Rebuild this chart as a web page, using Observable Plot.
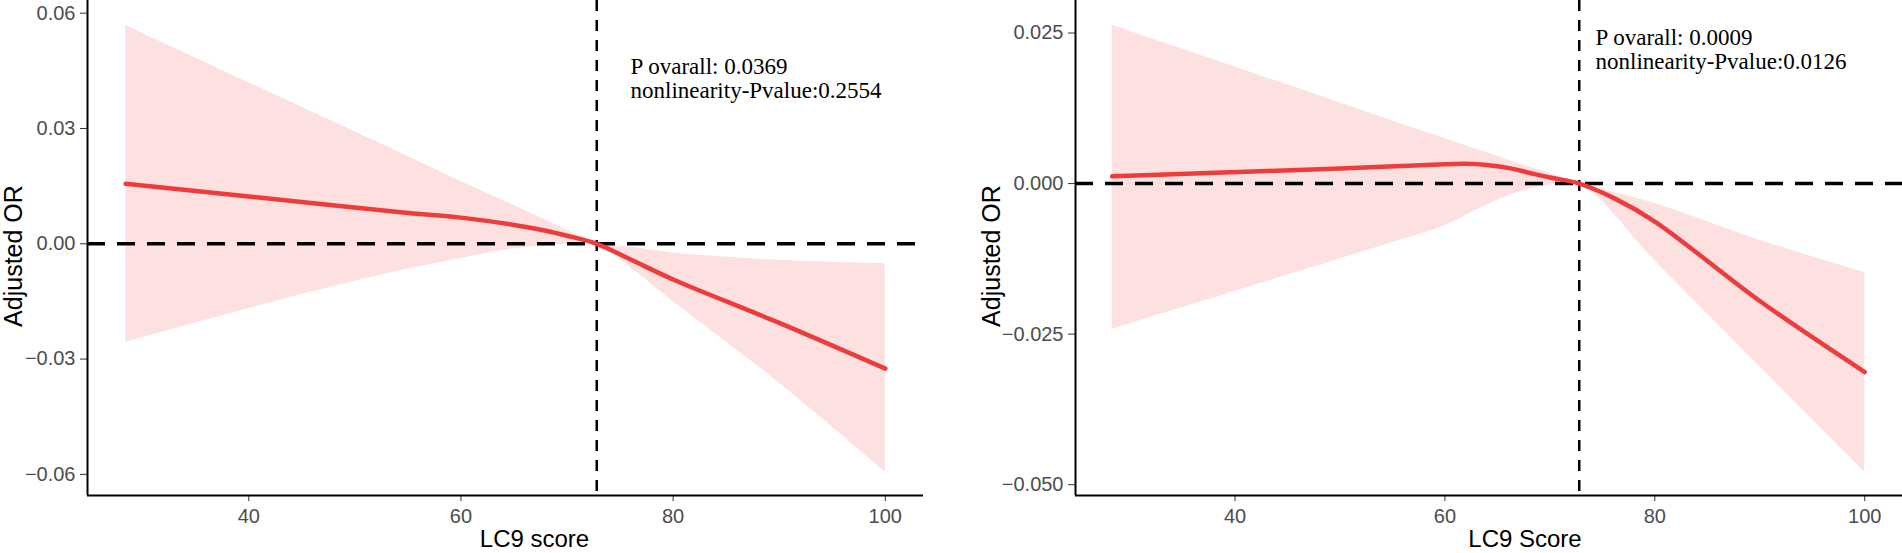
<!DOCTYPE html>
<html>
<head>
<meta charset="utf-8">
<script src="https://cdn.jsdelivr.net/npm/d3@7"></script>
<script src="https://cdn.jsdelivr.net/npm/@observablehq/plot@0.6"></script>
<style>
  body { margin: 0; background: #fff; }
  #wrap { position: relative; width: 1902px; height: 553px; overflow: hidden; background: #fff; }
  #wrap > svg { position: absolute; top: 0; }
</style>
</head>
<body>
<div id="wrap"></div>
<script>
// ---------- data ----------
const xTicks = [40, 60, 80, 100];
const knot = 72.8;

// Left panel
const yTicksL = [-0.06, -0.03, 0, 0.03, 0.06];
const curveXL = [28.4, 40, 54.3, 60, 65, 68, 70, 72.8, 76, 80, 90, 100];
const curveYL = [0.0156, 0.0123, 0.0082, 0.0068, 0.0049, 0.0034, 0.0021, 0, -0.0041, -0.0093, -0.0206, -0.0325];
const bandXL  = [28.4, 45, 54.3, 60, 63.7, 67, 70, 72.8, 76.2, 80, 90, 100];
const bandHiL = [0.0568, 0.0355, 0.0236, 0.0162, 0.0116, 0.0074, 0.0035, 0, -0.0010, -0.0024, -0.0043, -0.0052];
const bandLoL = [-0.0256, -0.0132, -0.0070, -0.0038, -0.0018, -0.0007, -0.0002, 0, -0.0066, -0.0150, -0.0362, -0.0594];
const annotL = "P ovarall: 0.0369\nnonlinearity-Pvalue:0.2554";
const xTitleL = "LC9 score";

// Right panel
const yTicksR = [-0.05, -0.025, 0, 0.025];
const curveXR = [28.3, 34.7, 50, 60, 62, 64, 66, 68, 70, 72.8, 76.2, 80, 90, 100];
const curveYR = [0.0012, 0.0016, 0.0025, 0.0032, 0.0033, 0.0031, 0.0026, 0.0018, 0.0010, 0, -0.0025, -0.0063, -0.0195, -0.0313];
const bandXR  = [28.3, 45, 55, 60, 63, 66.6, 69.9, 72.8, 80, 90, 100];
const bandHiR = [0.0263, 0.0164, 0.0104, 0.0075, 0.0057, 0.0036, 0.0017, 0, -0.0033, -0.0094, -0.0148];
const bandLoR = [-0.0242, -0.0152, -0.0098, -0.0070, -0.0044, -0.0017, -0.0003, 0, -0.0128, -0.0304, -0.0479];
const annotR = "P ovarall: 0.0009\nnonlinearity-Pvalue:0.0126";
const xTitleR = "LC9 Score";

const yTitle = "Adjusted OR";

// ---------- drawing ----------
const sans = "'Liberation Sans', Arial, Helvetica, sans-serif";
const serif = "'Liberation Serif', 'Times New Roman', serif";

function panel(o) {
  const curve = o.cx.map((x, i) => ({x, y: o.cy[i]}));
  const band = o.bx.map((x, i) => ({x, lo: o.blo[i], hi: o.bhi[i]}));
  return Plot.plot({
    width: o.width,
    height: 553,
    marginTop: 0,
    marginBottom: 58,
    marginLeft: o.marginLeft,
    marginRight: o.marginRight,
    x: {domain: o.xDomain},
    y: {domain: o.yDomain},
    style: {fontFamily: sans, fontSize: "20px", background: "transparent", overflow: "visible", color: "#4d4d4d"},
    marks: [
      Plot.areaY(band, {x: "x", y1: "lo", y2: "hi", fill: "#FDE1E1", curve: "catmull-rom"}),
      Plot.ruleY([0], {stroke: "black", strokeWidth: 3.5, strokeDasharray: "18,12"}),
      Plot.ruleX([knot], {stroke: "black", strokeWidth: 2.5, strokeDasharray: "11,9"}),
      Plot.lineY(curve, {x: "x", y: "y", stroke: "#EE3B3B", strokeWidth: 4.5, curve: "catmull-rom"}),
      Plot.axisX({ticks: xTicks, tickSize: 6, tickPadding: 7, label: null, stroke: "#333", fill: "#4d4d4d", fontSize: 20}),
      Plot.axisY({ticks: o.yTicks, tickSize: 7, tickPadding: 5, label: null, tickFormat: d3.format(o.fmt), stroke: "#333", fill: "#4d4d4d", fontSize: 20}),
      Plot.ruleX([o.xDomain[0]], {stroke: "black", strokeWidth: 2}),
      Plot.ruleY([o.yDomain[0]], {stroke: "black", strokeWidth: 2}),
      Plot.text([o.xTitle], {frameAnchor: "bottom", dx: o.xTitleDx, dy: 43.5, lineAnchor: "middle", textAnchor: "middle", fontSize: 24, fill: "black"}),
      Plot.text([yTitle], {frameAnchor: "left", rotate: -90, dx: o.yTitleDx, dy: 8, lineAnchor: "middle", textAnchor: "middle", fontSize: 25, fill: "black"}),
      Plot.text([o.annot], {frameAnchor: "top-left", dx: o.annDx, dy: o.annDy, lineAnchor: "top", textAnchor: "start", fontFamily: serif, fontSize: 23, lineHeight: 1.04, fill: "black"})
    ]
  });
}

const left = panel({
  width: 951, marginLeft: 87, marginRight: 28,
  xDomain: [24.8, 103.6], yDomain: [-0.0655, 0.0633],
  cx: curveXL, cy: curveYL, bx: bandXL, bhi: bandHiL, blo: bandLoL,
  yTicks: yTicksL, fmt: ".2f", xTitle: xTitleL, xTitleDx: 29, yTitleDx: -74,
  annot: annotL, annDx: 543, annDy: 57
});
left.style.left = "0px";

const right = panel({
  width: 951, marginLeft: 124, marginRight: 0,
  xDomain: [24.8, 103.6], yDomain: [-0.0518, 0.0304],
  cx: curveXR, cy: curveYR, bx: bandXR, bhi: bandHiR, blo: bandLoR,
  yTicks: yTicksR, fmt: ".3f", xTitle: xTitleR, xTitleDx: 36, yTitleDx: -84,
  annot: annotR, annDx: 520, annDy: 28
});
right.style.left = "951px";

document.getElementById("wrap").append(left, right);
</script>
</body>
</html>
